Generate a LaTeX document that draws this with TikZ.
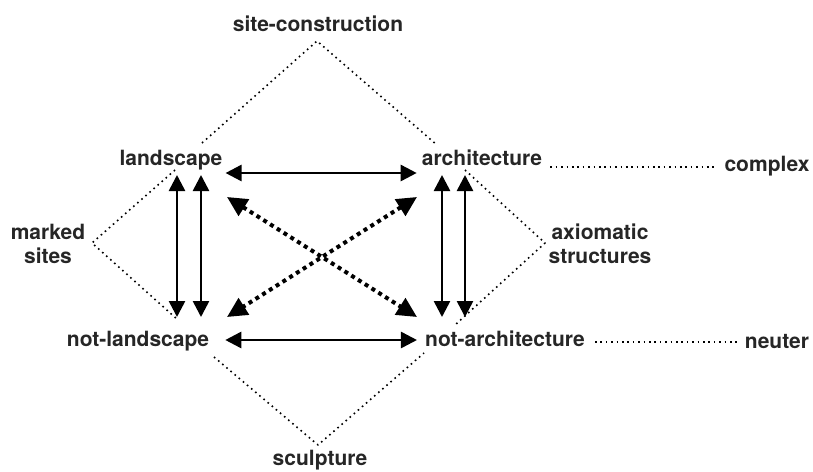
\documentclass[tikz,border=0pt]{standalone}
\usepackage{fontspec}
\setmainfont{TeX Gyre Heros}
\usetikzlibrary{arrows.meta}
\begin{document}
\begin{tikzpicture}[x=1pt,y=-1pt,line join=round,
  lbl/.style={font=\fontsize{21}{24}\selectfont\bfseries,inner sep=0pt,text=black!85},
  twoway/.style={line width=2.6pt,{Triangle[length=16pt,width=16pt]}-{Triangle[length=16pt,width=16pt]}},
  crossway/.style={line width=4pt,dash pattern=on 4pt off 4pt,{Triangle[length=20pt,width=19pt]}-{Triangle[length=20pt,width=19pt]}},
  dotline/.style={line width=1.6pt,dash pattern=on 1.6pt off 3.8pt}]
\useasboundingbox (0,0) rectangle (813,471);

    \node[lbl,anchor=base] (site) at (318,31) {site-construction};
    \node[lbl,anchor=base] (land) at (171,165) {landscape};
    \node[lbl,anchor=base] (arch) at (482,165) {architecture};
    \node[lbl,anchor=base] (complex) at (767,171) {complex};
    \node[lbl,anchor=base] (notland) at (138,346) {not-landscape};
    \node[lbl,anchor=base] (notarch) at (505,346) {not-architecture};
    \node[lbl,anchor=base] (neuter) at (777,348) {neuter};
    \node[lbl,align=center] (marked) at (48,244) {marked\\sites};
    \node[lbl,align=center] (axiom) at (600,244) {axiomatic\\structures};
    \node[lbl,anchor=base] (sculp) at (320,465) {sculpture};

    \coordinate (lt1) at (177,175);  \coordinate (lb1) at (177,317);
    \coordinate (lt2) at (201,175);  \coordinate (lb2) at (201,317);
    \coordinate (rt1) at (442,175);  \coordinate (rb1) at (442,317);
    \coordinate (rt2) at (465,175);  \coordinate (rb2) at (465,317);
    \coordinate (dtl) at (227,197);  \coordinate (dtr) at (417,197);
    \coordinate (dbl) at (227,317);  \coordinate (dbr) at (417,317);

    \coordinate (vtop) at (317,41);
    \coordinate (vleft) at (92,243);
    \coordinate (vright) at (545,243);
    \coordinate (vbot) at (318,445);

\draw[twoway]([xshift=3pt,yshift=-8pt]land.base east)--([xshift=-5pt,yshift=-8pt]arch.base west);
\draw[twoway]([xshift=16pt,yshift=6pt]notland.base east)--([xshift=-8pt,yshift=6pt]notarch.base west);
\draw[twoway](lt1)--(lb1);
\draw[twoway](lt2)--(lb2);
\draw[twoway](rt1)--(rb1);
\draw[twoway](rt2)--(rb2);
\draw[crossway](dtl)--(dbr);
\draw[crossway](dtr)--(dbl);

\draw[dotline](202,143)--(vtop)--(437,145);
\draw[dotline](175,170)--(vleft)--(178,320);
\draw[dotline](465,170)--(vright)--(455,325);
\draw[dotline](214,357)--(vbot)--(424,353);
\draw[dotline]([xshift=8pt,yshift=-2pt]arch.base east)--([xshift=-8pt,yshift=4pt]complex.base west);
\draw[dotline]([xshift=10pt,yshift=4pt]notarch.base east)--([xshift=-8pt,yshift=6pt]neuter.base west);
\end{tikzpicture}
\end{document}
